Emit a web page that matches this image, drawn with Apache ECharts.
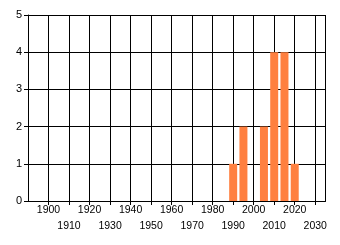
<!DOCTYPE html>
<html>
<head>
<meta charset="utf-8">
<script src="https://cdn.jsdelivr.net/npm/echarts@6/dist/echarts.min.js"></script>
<style>html,body{margin:0;padding:0;background:#fff}#c{width:340px;height:245px}</style>
</head>
<body>
<div id="c"></div>
<script>
var years = [1990, 1995, 2005, 2010, 2015, 2020];
var counts = [1, 2, 2, 4, 4, 1];
var yTicks = [0, 1, 2, 3, 4, 5];

var chart = echarts.init(document.getElementById('c'));
chart.setOption({
  animation: false,
  backgroundColor: '#fff',
  grid: { left: 28, right: 14.5, top: 15, bottom: 44 },
  xAxis: {
    type: 'value', min: 1890, max: 2035, interval: 10,
    axisLine: { show: true, lineStyle: { color: '#000', width: 1 } },
    axisTick: { show: true, length: 4, lineStyle: { color: '#000' } },
    splitLine: { show: true, lineStyle: { color: '#000', width: 1 } },
    axisLabel: {
      color: '#000', fontFamily: 'Liberation Sans', fontSize: 10.5, lineHeight: 16, margin: 1,
      showMinLabel: false, showMaxLabel: false,
      formatter: function (v) {
        if (v < 1900 || v > 2030) return '';
        return (v / 10) % 2 === 0 ? String(v) : '\n' + v;
      }
    }
  },
  yAxis: {
    type: 'value', min: yTicks[0], max: yTicks[yTicks.length - 1], interval: 1,
    axisLine: { show: true, lineStyle: { color: '#000', width: 1 } },
    axisTick: { show: true, length: 4, lineStyle: { color: '#000' } },
    splitLine: { show: true, lineStyle: { color: '#000', width: 1 } },
    axisLabel: { color: '#000', fontFamily: 'Liberation Sans', fontSize: 11, margin: 6 }
  },
  series: [{
    type: 'bar',
    barWidth: 8,
    itemStyle: { color: '#FF8040' },
    data: years.map(function (y, i) { return [y, counts[i]]; })
  }]
});
</script>
</body>
</html>
